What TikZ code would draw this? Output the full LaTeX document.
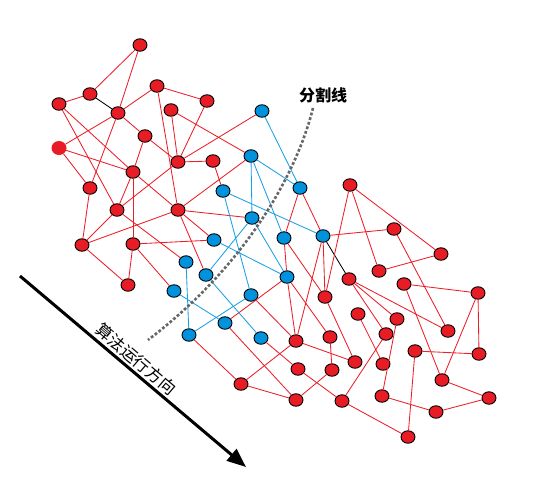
\documentclass[tikz,border=0pt]{standalone}
\usepackage{fontspec}
\newfontfamily\cjk{Noto Sans CJK SC}
\usetikzlibrary{shapes.geometric,arrows.meta}
\definecolor{nred}{RGB}{232,28,36}
\definecolor{nblue}{RGB}{0,146,220}
\definecolor{ered}{RGB}{236,30,40}
\definecolor{eblue}{RGB}{27,160,226}
\tikzset{
  rn/.style={ellipse,fill=nred,draw=black,line width=0.9pt,minimum width=14pt,minimum height=12.5pt,inner sep=0pt},
  rnb/.style={ellipse,fill=nred,minimum width=15pt,minimum height=14pt,inner sep=0pt},
  bn/.style={ellipse,fill=nblue,draw=black,line width=0.9pt,minimum width=14pt,minimum height=12.5pt,inner sep=0pt},
  re/.style={draw=ered,line width=0.85pt},
  be/.style={draw=eblue,line width=0.85pt},
  ke/.style={draw=black,line width=0.85pt},
  sepline/.style={draw=black!60,line width=2.6pt,dash pattern=on 2.8pt off 2pt},
  bigarrow/.style={draw=black,line width=3pt,-{Triangle[length=19pt,width=15pt]}}
}
\begin{document}
\begin{tikzpicture}[x=1pt,y=-1pt]
\useasboundingbox (0,0) rectangle (545,482);
% left red cluster
\node[rn] (R1) at (140,45) {};
\node[rn] (R2) at (90,94) {};
\node[rn] (R3) at (59,104) {};
\node[rn] (R4) at (157,86) {};
\node[rn] (R5) at (207,101) {};
\node[rn] (R6) at (118,113) {};
\node[rn] (R7) at (171,110) {};
\node[rn] (R8) at (145,136) {};
\node[rnb] (R9) at (59,148) {};
\node[rn] (R10) at (178,162) {};
\node[rn] (R11) at (213,161) {};
\node[rn] (R12) at (133,172) {};
\node[rn] (R13) at (90,188) {};
\node[rn] (R14) at (117,210) {};
\node[rn] (R15) at (178,210) {};
\node[rn] (R16) at (82,245) {};
\node[rn] (R17) at (133,244) {};
\node[rn] (R18) at (128,285) {};
% blue
\node[bn] (B1) at (262,111) {};
\node[bn] (B2) at (251,156) {};
\node[bn] (B3) at (300,188) {};
\node[bn] (B4) at (223,191) {};
\node[bn] (B5) at (252,218) {};
\node[bn] (B6) at (214,240) {};
\node[bn] (B7) at (284,238) {};
\node[bn] (B8) at (323,236) {};
\node[bn] (B9) at (186,262) {};
\node[bn] (B10) at (206,275) {};
\node[bn] (B11) at (287,277) {};
\node[bn] (B12) at (174,291) {};
\node[bn] (B13) at (251,295) {};
\node[bn] (B14) at (225,323) {};
\node[bn] (B15) at (261,338) {};
\node[bn] (B16) at (189,335) {};
% right red cluster
\node[rn] (Q1) at (350,185) {};
\node[rn] (Q2) at (394,229) {};
\node[rn] (Q3) at (441,254) {};
\node[rn] (Q4) at (379,271) {};
\node[rn] (Q5) at (349,279) {};
\node[rn] (Q6) at (404,284) {};
\node[rn] (Q7) at (478,293) {};
\node[rn] (Q8) at (325,297) {};
\node[rn] (Q9) at (358,314) {};
\node[rn] (Q10) at (397,319) {};
\node[rn] (Q11) at (448,331) {};
\node[rn] (Q12) at (296,341) {};
\node[rn] (Q13) at (330,337) {};
\node[rn] (QA) at (386,334) {};
\node[rn] (Q14) at (415,351) {};
\node[rn] (Q15) at (479,354) {};
\node[rn] (Q16) at (355,362) {};
\node[rn] (Q17) at (383,364) {};
\node[rn] (Q18) at (298,369) {};
\node[rn] (Q19) at (332,370) {};
\node[rn] (Q20) at (241,384) {};
\node[rn] (Q21) at (442,380) {};
\node[rn] (Q22) at (382,396) {};
\node[rn] (Q23) at (489,398) {};
\node[rn] (Q24) at (342,401) {};
\node[rn] (Q25) at (296,400) {};
\node[rn] (Q26) at (436,412) {};
\node[rn] (Q27) at (408,437) {};
% left cluster edges
\foreach \a/\b in {R1/R2,R1/R6,R2/R3,R4/R6,R4/R5,R4/R15,R5/R10,R7/R10,R6/R8,R8/R12,R8/R10,
  R9/R6,R9/R12,R9/R13,R3/R14,R3/R12,R6/R13,R12/R14,R12/R17,R12/R15,R10/R14,R10/R11,
  R13/R16,R14/R16,R16/R15,R16/R18,R17/R18}
  \path[re] (\a) -- (\b);
\path[ke] (R2) -- (R6);
% red edges touching blue
\foreach \a/\b in {R10/B1,R7/B2,R15/B2,R11/B4,R15/B5,R15/B6,R17/B6,R14/B9,R15/B10,R17/B12,
  B3/B7,B3/B8,B7/B11,B7/Q8,B8/Q2,B8/Q8,B8/Q12,B11/B14,B11/Q12,B11/Q13,B13/Q12,
  B14/Q25,B15/Q18,B16/Q20}
  \path[re] (\a) -- (\b);
% blue edges
\foreach \a/\b in {B1/B3,B2/B3,B2/B5,B2/B7,B4/B8,B4/B13,B5/B10,B5/B11,B6/B11,B9/B16,
  B10/B15,B12/B14,B13/B16}
  \path[be] (\a) -- (\b);
\path[ke] (B8) -- (Q5);
% right cluster edges
\foreach \a/\b in {Q1/Q3,Q1/Q4,Q1/Q8,Q3/Q4,Q2/Q11,Q5/Q10,Q5/QA,Q5/Q11,Q6/Q7,Q6/Q21,
  Q7/Q15,Q7/Q21,Q8/Q16,Q9/Q17,Q10/Q22,QA/Q24,Q14/Q15,Q14/Q27,Q12/Q16,Q12/Q20,
  Q13/Q19,Q18/Q24,Q19/Q25,Q20/Q25,Q21/Q23,Q22/Q26,Q23/Q26,Q24/Q27}
  \path[re] (\a) -- (\b);
% separating line
\coordinate (s1) at (313,108);
\coordinate (s2) at (148,340);
\path[sepline] (s1) .. controls (295,180) and (240,270) .. (s2);
\node[font=\cjk\bfseries\fontsize{16}{16}\selectfont,inner sep=1pt] (lab) at (323,95) {分割线};
% arrow
\coordinate (a1) at (20,276);
\coordinate (a2) at (246,467);
\path[bigarrow] (a1) -- (a2);
\node[font=\cjk\fontsize{16.5}{16.5}\selectfont,rotate=-40.5,inner sep=0pt] (dir) at (136,359) {算法运行方向};
\end{tikzpicture}
\end{document}
